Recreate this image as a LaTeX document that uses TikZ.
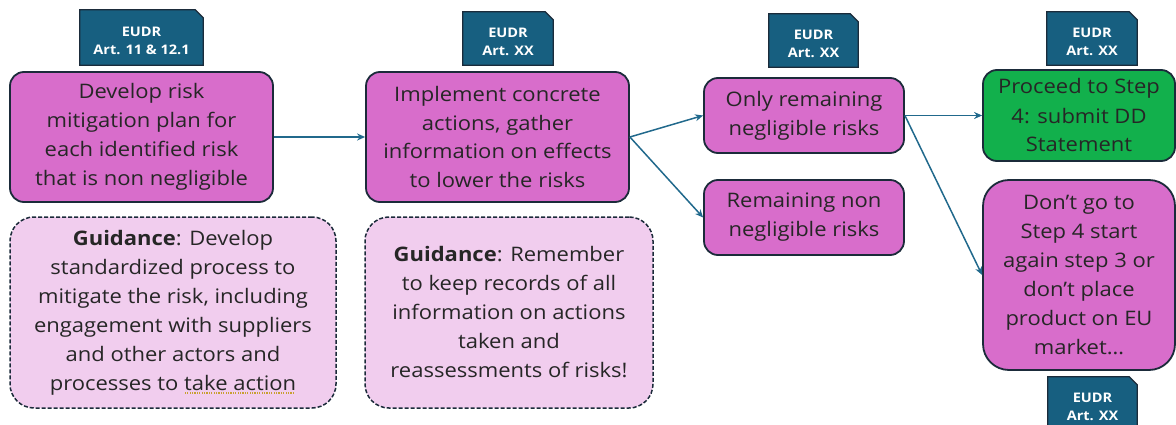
\documentclass[tikz,border=0pt]{standalone}
\usepackage{fontspec}
\setmainfont{Open Sans}[FakeStretch=1.1]
\usetikzlibrary{arrows.meta,backgrounds}
\definecolor{mag}{HTML}{D86DCB}
\definecolor{grn}{HTML}{12B04C}
\definecolor{lpink}{HTML}{F1CDEE}
\definecolor{edgec}{HTML}{1B2B3A}
\definecolor{tagc}{HTML}{175F80}
\definecolor{arrc}{HTML}{21698C}
\definecolor{spellc}{HTML}{C8A030}
\newsavebox{\spellbox}
\newcommand{\spellmark}[1]{\sbox{\spellbox}{#1}%
  \rlap{\textcolor{spellc}{\lower3.5pt\hbox to\wd\spellbox{\leaders\hbox{\kern0.6pt\rule{1.2pt}{1.2pt}\kern0.6pt}\hfill}}}\usebox{\spellbox}}
\begin{document}
\begin{tikzpicture}[x=1pt,y=-1pt,
  box/.style={draw=edgec,line width=1.8pt,rounded corners=14pt,fill=mag,align=center,
    font=\fontsize{20}{29}\selectfont,inner sep=0pt,text=black!85},
  gbox/.style={box,fill=grn},
  guide/.style={draw=edgec,line width=1.5pt,dash pattern=on 4pt off 2pt,rounded corners=24pt,fill=lpink,align=center,
    font=\fontsize{20}{29}\selectfont,inner sep=0pt,text=black!85},
  tag/.style={inner sep=0pt,align=center,text=white,font=\fontsize{13.2}{18}\selectfont\bfseries},
  conn/.style={draw=arrc,line width=1.5pt,-{Stealth[length=8pt,width=7pt]}}
]
\useasboundingbox (0,0) rectangle (1176,425);

% main boxes
\node[box,minimum width=263pt,minimum height=130pt] (b1) at (141.5,137)
  {Develop risk\\mitigation plan for\\each identified risk\\that is non negligible};
\node[box,minimum width=263pt,minimum height=130pt] (b2) at (497.5,137)
  {Implement concrete\\actions, gather\\information on effects\\to lower the risks};
\node[box,minimum width=200pt,minimum height=75pt] (b3) at (804,115.5)
  {Only remaining\\negligible risks};
\node[box,minimum width=200pt,minimum height=75pt] (b4) at (804,217.5)
  {Remaining non\\negligible risks};
\node[gbox,minimum width=192pt,minimum height=91pt] (b5) at (1079,115.5)
  {Proceed to Step\\4: submit DD\\Statement};
\node[box,rounded corners=26pt,minimum width=192pt,minimum height=190pt] (b6) at (1079,275)
  {Don’t go to\\Step 4 start\\again step 3 or\\don’t place\\product on EU\\market…};

% guidance boxes
\node[guide,minimum width=326pt,minimum height=191pt] (g1) at (173,312.5)
  {\textbf{Guidance}: Develop\\standardized process to\\mitigate the risk, including\\engagement with suppliers\\and other actors and\\processes to \spellmark{take action}};
\node[guide,minimum width=288pt,minimum height=191pt] (g2) at (509,312.5)
  {\textbf{Guidance}: Remember\\to keep records of all\\information on actions\\taken and\\reassessments of risks!};

% tags (text sits slightly below the centre of the tag shape)
\node[tag,minimum width=123pt,minimum height=55pt] (t1) at (141.5,41) {EUDR\\Art. 11 \& 12.1};
\node[tag,minimum width=90pt,minimum height=53pt] (t2) at (508,42) {EUDR\\Art. XX};
\node[tag,minimum width=89pt,minimum height=53pt] (t3) at (813.5,44) {EUDR\\Art. XX};
\node[tag,minimum width=90pt,minimum height=53pt] (t4) at (1092,42) {EUDR\\Art. XX};
\node[tag,minimum width=89pt,minimum height=53pt] (t5) at (1092.5,407) {EUDR\\Art. XX};
\begin{scope}[on background layer]
\foreach \t in {t1,t2,t3,t4,t5}{
  \draw[fill=tagc,draw=edgec,line width=1.2pt]
    ([yshift=3.5pt]\t.south west) -- ([yshift=3.5pt]\t.north west) -- ([xshift=-8pt,yshift=3.5pt]\t.north east)
    -- ([yshift=-4.5pt]\t.north east) -- ([yshift=3.5pt]\t.south east) -- cycle;
}
\end{scope}

% connectors
\draw[conn] (b1.east) -- (b2.west);
\draw[conn] (b2.east) -- (b3.west);
\draw[conn] (b2.east) -- (b4.west);
\draw[conn] (b3.east) -- (b5.west);
\draw[conn] (b3.east) -- (b6.west);
\end{tikzpicture}
\end{document}
